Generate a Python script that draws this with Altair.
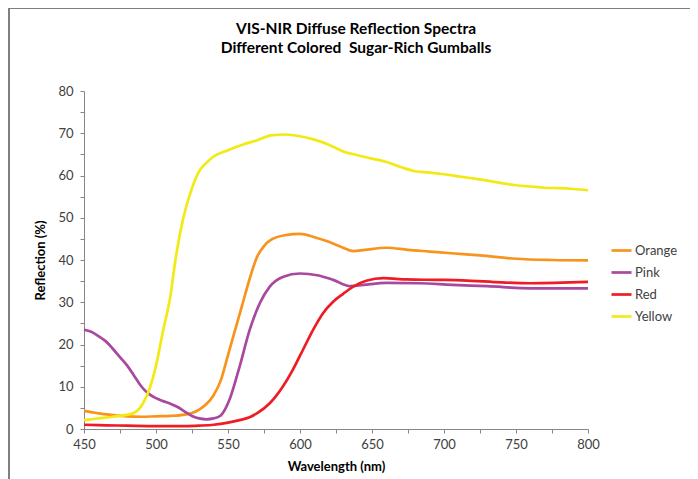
import altair as alt
import pandas as pd

series_names = ["Orange", "Pink", "Red", "Yellow"]
series_colors = ["#F7941E", "#A8489E", "#EE1C25", "#F2EA16"]

title_lines = ["VIS-NIR Diffuse Reflection Spectra", "Different Colored\u00a0 Sugar-Rich Gumballs"]

orange_nm = [450, 455, 460, 470, 480, 490, 500, 510, 520, 525, 530, 535, 540, 545, 550, 555, 560, 565, 570, 575, 580, 590, 600, 610, 620, 630, 637, 645, 660, 675, 690, 705, 725, 750, 775, 800]
orange_val = [4.3, 4.0, 3.7, 3.3, 3.0, 2.9, 3.0, 3.1, 3.4, 3.8, 4.6, 5.9, 8.0, 11.5, 17.5, 23.5, 29.5, 35.5, 40.6, 43.3, 44.8, 45.9, 46.2, 45.4, 44.3, 42.9, 42.1, 42.4, 42.9, 42.4, 42.0, 41.6, 41.1, 40.3, 40.0, 39.9]

pink_nm = [450, 455, 460, 465, 470, 475, 480, 485, 490, 495, 500, 505, 510, 515, 520, 525, 530, 535, 540, 545, 551, 558, 565, 572, 579, 588, 600, 612, 623, 635, 644, 660, 683, 706, 730, 760, 800]
pink_val = [23.5, 23.0, 22.0, 20.8, 19.0, 17.0, 15.0, 12.5, 10.0, 8.3, 7.3, 6.6, 6.0, 5.2, 4.1, 3.1, 2.5, 2.3, 2.5, 3.2, 6.9, 14.7, 23.4, 29.7, 33.7, 36.0, 36.8, 36.4, 35.3, 33.8, 34.1, 34.6, 34.5, 34.1, 33.8, 33.3, 33.3]

red_nm = [450, 460, 480, 500, 520, 530, 540, 550, 558, 565, 570, 579, 588, 595, 602, 609, 616, 623, 630, 637, 646, 658, 674, 695, 713, 740, 760, 800]
red_val = [1.0, 0.9, 0.8, 0.7, 0.7, 0.8, 1.0, 1.5, 2.1, 2.8, 3.7, 6.1, 10.0, 14.0, 18.7, 23.4, 27.4, 30.1, 32.0, 33.7, 35.1, 35.7, 35.4, 35.3, 35.2, 34.7, 34.5, 34.8]

yellow_nm = [450, 460, 470, 484, 491, 496, 500, 505, 510, 513.5, 519, 525, 530, 535, 540, 550, 560, 570, 580, 590, 600, 610, 620, 630, 640, 650, 660, 670, 680, 690, 700, 710, 720, 730, 740, 750, 760, 770, 780, 790, 800]
yellow_val = [2.1, 2.5, 2.9, 3.7, 6.1, 10.0, 15.0, 23.4, 31.5, 40.0, 50.0, 57.0, 61.0, 63.0, 64.5, 66.0, 67.3, 68.3, 69.5, 69.7, 69.3, 68.5, 67.3, 65.7, 64.8, 64.0, 63.2, 62.0, 61.0, 60.7, 60.3, 59.8, 59.3, 58.8, 58.2, 57.7, 57.4, 57.1, 57.0, 56.8, 56.5]

x_ticks = list(range(450, 801, 25))
y_ticks = list(range(0, 81, 5))

frames = []
for name, nm, val in [("Orange", orange_nm, orange_val), ("Pink", pink_nm, pink_val),
                      ("Red", red_nm, red_val), ("Yellow", yellow_nm, yellow_val)]:
    frames.append(pd.DataFrame({"Wavelength": nm, "Reflection": val, "Series": name}))
df = pd.concat(frames, ignore_index=True)

FONT = "Lato"
AXIS_GRAY = "#868686"
TEXT = "#404040"

lines = alt.Chart(df).mark_line(strokeWidth=2.7, interpolate="monotone").encode(
    x=alt.X("Wavelength:Q", scale=alt.Scale(domain=[450, 800], nice=False),
            axis=alt.Axis(values=x_ticks, title="Wavelength (nm)",
                          labelExpr="datum.value % 50 == 0 ? datum.label : ''",
                          labelFlush=False, labelOverlap=False,
                          grid=False, titlePadding=9, labelPadding=5)),
    y=alt.Y("Reflection:Q", scale=alt.Scale(domain=[0, 80], nice=False),
            axis=alt.Axis(values=y_ticks, title="Reflection (%)",
                          labelExpr="datum.value % 10 == 0 ? datum.label : ''",
                          labelFlush=False, labelOverlap=False,
                          grid=False, titlePadding=10, labelPadding=7)),
    color=alt.Color("Series:N", scale=alt.Scale(domain=series_names, range=series_colors),
                    legend=alt.Legend(title=None, orient="none", legendX=526, legendY=148,
                                      symbolType="stroke", symbolSize=400, symbolStrokeWidth=2.7,
                                      labelFontSize=13, labelColor=TEXT, labelFont=FONT,
                                      rowPadding=3, labelOffset=2)),
    order=alt.Order("Series:N"),
)

title_df = pd.DataFrame({"text": title_lines, "line": [0, 1]})
title1 = alt.Chart(title_df).transform_filter("datum.line == 0").mark_text(
    font=FONT, fontSize=15.5, fontWeight="bold", color="#000000", baseline="middle", align="center"
).encode(text="text:N", x=alt.value(272), y=alt.value(-62))
title2 = alt.Chart(title_df).transform_filter("datum.line == 1").mark_text(
    font=FONT, fontSize=15.5, fontWeight="bold", color="#000000", baseline="middle", align="center"
).encode(text="text:N", x=alt.value(272), y=alt.value(-43))

frame_top = alt.Chart(title_df).mark_rule(color="#7F7F7F", strokeWidth=2).encode(
    x=alt.value(-78), x2=alt.value(700), y=alt.value(-83))
frame_left = alt.Chart(title_df).mark_rule(color="#7F7F7F", strokeWidth=2).encode(
    x=alt.value(-75), y=alt.value(-84), y2=alt.value(420))

chart = alt.layer(frame_top, frame_left, title1, title2, lines).properties(
    width=504, height=338,
    autosize=alt.AutoSizeParams(type="none"),
    padding={"left": 76, "top": 83, "right": 102, "bottom": 50},
).configure_view(stroke=None).configure_axis(
    domainColor=AXIS_GRAY, tickColor=AXIS_GRAY, tickSize=4, labelFont=FONT, labelFontSize=13,
    labelColor=TEXT, titleFont=FONT, titleFontSize=13, titleFontWeight="bold", titleColor="#000000",
    domainWidth=1,
)

chart.save("out.html", embed_options={"renderer": "svg", "actions": False})
